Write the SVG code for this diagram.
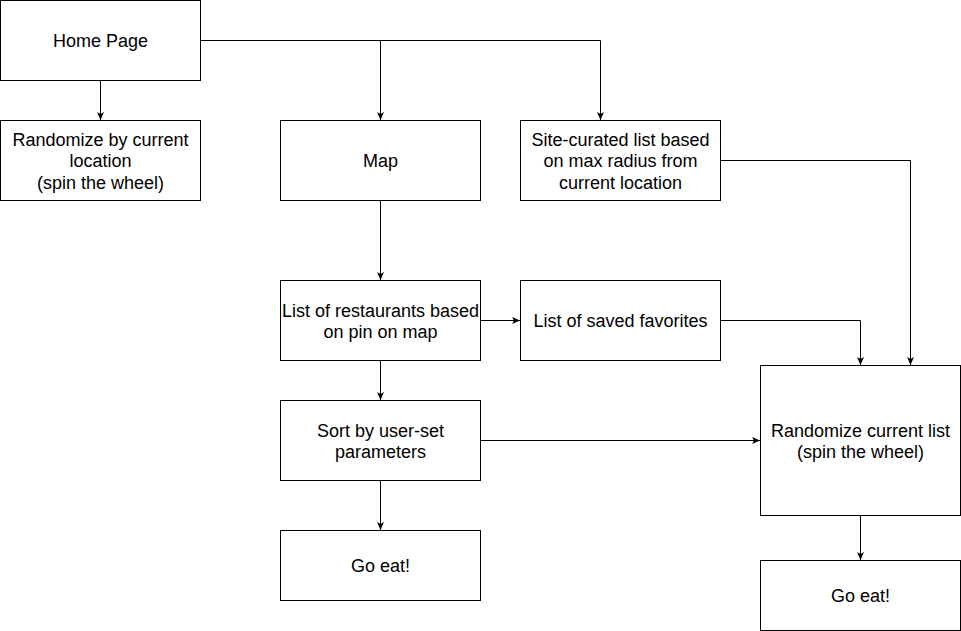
<svg xmlns="http://www.w3.org/2000/svg" width="961" height="631" viewBox="0 0 961 631">
<style>
.box{fill:#fff;stroke:#000;stroke-width:1}
.t{font-family:"Liberation Sans",Arial,Helvetica,sans-serif;font-size:18px;fill:#000;text-anchor:middle}
.e{fill:none;stroke:#000;stroke-width:1}
</style>
<defs>
<marker id="ah" viewBox="0 0 8 7" refX="8" refY="3.5" markerWidth="8" markerHeight="7" markerUnits="userSpaceOnUse" orient="auto">
<path d="M0,0 L8,3.5 L0,7 L2,3.5 Z" fill="#000"/>
</marker>
</defs>
<rect width="961" height="631" fill="#fff"/>
<g id="connectors">
<path class="e" d="M100.5 80.5 V120" marker-end="url(#ah)"/>
<path class="e" d="M200.5 40.5 H380.5 V120" marker-end="url(#ah)"/>
<path class="e" d="M200.5 40.5 H600.5 V120" marker-end="url(#ah)"/>
<path class="e" d="M380.5 200.5 V280" marker-end="url(#ah)"/>
<path class="e" d="M480.5 320.5 H520" marker-end="url(#ah)"/>
<path class="e" d="M720.5 160.5 H910.5 V365" marker-end="url(#ah)"/>
<path class="e" d="M720.5 320.5 H860.5 V365" marker-end="url(#ah)"/>
<path class="e" d="M380.5 360.5 V400" marker-end="url(#ah)"/>
<path class="e" d="M480.5 440.5 H760" marker-end="url(#ah)"/>
<path class="e" d="M380.5 480.5 V530" marker-end="url(#ah)"/>
<path class="e" d="M860.5 515.5 V560" marker-end="url(#ah)"/>
</g>
<g id="home">
<rect class="box" x="0.5" y="0.5" width="200" height="80"/>
<text class="t" x="100.5" y="47">Home Page</text>
</g>
<g id="randomize-location">
<rect class="box" x="0.5" y="120.5" width="200" height="80"/>
<text class="t" x="100.5" y="145.5">Randomize by current</text>
<text class="t" x="100.5" y="167">location</text>
<text class="t" x="100.5" y="188.5">(spin the wheel)</text>
</g>
<g id="map">
<rect class="box" x="280.5" y="120.5" width="200" height="80"/>
<text class="t" x="380.5" y="167">Map</text>
</g>
<g id="site-curated">
<rect class="box" x="520.5" y="120.5" width="200" height="80"/>
<text class="t" x="620.5" y="145.5">Site-curated list based</text>
<text class="t" x="620.5" y="167">on max radius from</text>
<text class="t" x="620.5" y="188.5">current location</text>
</g>
<g id="list-restaurants">
<rect class="box" x="280.5" y="280.5" width="200" height="80"/>
<text class="t" x="380.5" y="316.5">List of restaurants based</text>
<text class="t" x="380.5" y="338">on pin on map</text>
</g>
<g id="saved-favorites">
<rect class="box" x="520.5" y="280.5" width="200" height="80"/>
<text class="t" x="620.5" y="327">List of saved favorites</text>
</g>
<g id="sort">
<rect class="box" x="280.5" y="400.5" width="200" height="80"/>
<text class="t" x="380.5" y="436.5">Sort by user-set</text>
<text class="t" x="380.5" y="458">parameters</text>
</g>
<g id="go-eat-left">
<rect class="box" x="280.5" y="530.5" width="200" height="70"/>
<text class="t" x="380.5" y="572">Go eat!</text>
</g>
<g id="randomize-list">
<rect class="box" x="760.5" y="365.5" width="200" height="150"/>
<text class="t" x="860.5" y="436.5">Randomize current list</text>
<text class="t" x="860.5" y="458">(spin the wheel)</text>
</g>
<g id="go-eat-right">
<rect class="box" x="760.5" y="560.5" width="200" height="70"/>
<text class="t" x="860.5" y="602">Go eat!</text>
</g>
</svg>
